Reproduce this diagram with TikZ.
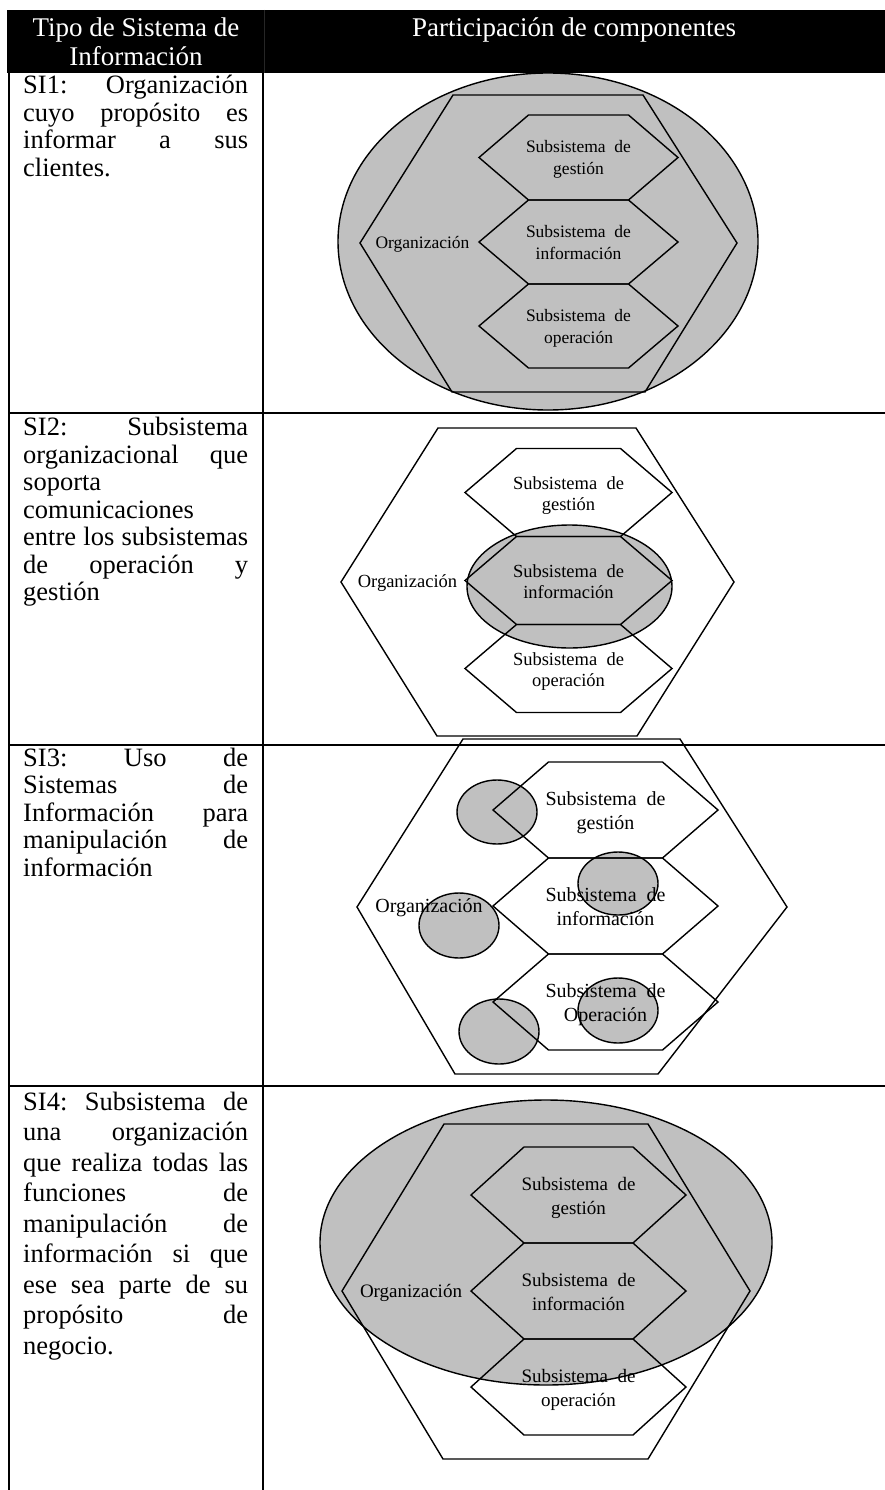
\documentclass[tikz,border=0pt]{standalone}
\usepackage{fontspec}
\setmainfont{Liberation Serif}
\definecolor{shade}{RGB}{192,192,192}

% inner hexagon: centre (#1,#2), half width to the side vertex #3,
% half length of the flat top edge #4, half height #5
\newcommand{\inhex}[5]{%
  \draw[shapeline] ({#1-#3},#2) -- ({#1-#4},{#2-#5}) -- ({#1+#4},{#2-#5})
    -- ({#1+#3},#2) -- ({#1+#4},{#2+#5}) -- ({#1-#4},{#2+#5}) -- cycle;}
% two centred lines whose reference point is the first baseline
\newcommand{\twoline}[2]{\vtop{\hbox to 0pt{\hss#1\hss}\hbox to 0pt{\hss#2\hss}}}
\newlength{\cw}\setlength{\cw}{225pt}
\newcommand{\jl}[1]{\hbox to\cw{#1}}

\tikzset{
  rule/.style={line width=2pt},
  shapeline/.style={line width=1.4pt, line join=miter},
  blob/.style={fill=shade, draw=black, line width=1.4pt},
  hdr/.style={text=white, inner sep=0pt, font=\fontsize{27}{29}\selectfont},
  body/.style={inner sep=0pt, anchor=base west, font=\fontsize{26.5}{27.5}\selectfont},
  lblA/.style={inner sep=0pt, anchor=base, font=\fontsize{17.5}{22}\selectfont},
  lblB/.style={inner sep=0pt, anchor=base, font=\fontsize{18.5}{21}\selectfont},
  lblC/.style={inner sep=0pt, anchor=base, font=\fontsize{20}{23.5}\selectfont},
  lblD/.style={inner sep=0pt, anchor=base, font=\fontsize{19}{24}\selectfont},
}

\begin{document}
\begin{tikzpicture}[x=1pt, y=-1pt]
\useasboundingbox[fill=white] (0,0) rectangle (885,1490);

% ---------- table frame ----------
\fill[black] (7,10) rectangle (885,73);
\draw[gray!30!black, line width=1pt] (264.5,10) -- (264.5,73);
\draw[rule] (9,73) -- (9,1490);
\draw[rule] (263,73) -- (263,1490);
\draw[rule] (8,413) -- (885,413);
\draw[rule] (8,745) -- (885,745);
\draw[rule] (8,1086) -- (885,1086);

\node[hdr, anchor=base] (hleft) at (136,37)
  {\vtop{\hbox to 0pt{\hss Tipo de Sistema de\hss}\hbox to 0pt{\hss Información\hss}}};
\node[hdr, anchor=base] (hright) at (574,37) {Participación de componentes};

% ---------- left column ----------
\node[body] (si1) at (23,94) {\vtop{%
  \jl{SI1:\hfil Organización}
  \jl{cuyo\hfil propósito\hfil es}
  \jl{informar\hfil a\hfil sus}
  \hbox{clientes.}}};
\node[body] (si2) at (23,435.5) {\vtop{%
  \jl{SI2:\hfil Subsistema}
  \jl{organizacional\hfil que}
  \hbox{soporta}
  \hbox{comunicaciones}
  \jl{entre\hfil los\hfil subsistemas}
  \jl{de\hfil operación\hfil y}
  \hbox{gestión}}};
\node[body] (si3) at (23,766) {\vtop{%
  \jl{SI3:\hfil Uso\hfil de}
  \jl{Sistemas\hfil de}
  \jl{Información\hfil para}
  \jl{manipulación\hfil de}
  \hbox{información}}};
\node[body, font=\fontsize{26.5}{30.5}\selectfont] (si4) at (23,1110) {\vtop{%
  \jl{SI4:\hfil Subsistema\hfil de}
  \jl{una\hfil organización}
  \jl{que\hfil realiza\hfil todas\hfil las}
  \jl{funciones\hfil de}
  \jl{manipulación\hfil de}
  \jl{información\hfil si\hfil que}
  \jl{ese\hfil sea\hfil parte\hfil de\hfil su}
  \jl{propósito\hfil de}
  \hbox{negocio.}}};

% ---------- SI1: the whole organization is shaded ----------
\path[blob] (548,241.5) ellipse [x radius=210, y radius=168.5];
\draw[shapeline] (453,95) -- (643,95) -- (737,243) -- (645,392) -- (452,392) -- (360,243) -- cycle;
\inhex{578.5}{157.5}{99.5}{50}{42.5}
\inhex{578.5}{242}{99.5}{50}{42}
\inhex{578.5}{326}{99.5}{50}{42}
\node[lblA] (a1) at (578.5,153) {\twoline{Subsistema~~de}{gestión}};
\node[lblA] (a2) at (578.5,237.5) {\twoline{Subsistema~~de}{información}};
\node[lblA] (a3) at (578.5,321.5) {\twoline{Subsistema~~de}{operación}};
\node[lblA] (a0) at (422.5,248) {Organización};

% ---------- SI2: only the information subsystem is shaded ----------
\path[blob] (569.5,586.5) ellipse [x radius=102.5, y radius=61.5];
\draw[shapeline] (438,428) -- (636,428) -- (734,582) -- (637,736) -- (437,736) -- (341,582) -- cycle;
\inhex{568.5}{492.5}{103.5}{52}{44}
\inhex{568.5}{580.5}{103.5}{52}{44}
\inhex{568.5}{668.5}{103.5}{52}{44}
\node[lblB] (b1) at (568.5,489) {\twoline{Subsistema~~de}{gestión}};
\node[lblB] (b2) at (568.5,577) {\twoline{Subsistema~~de}{información}};
\node[lblB] (b3) at (568.5,665) {\twoline{Subsistema~~de}{operación}};
\node[lblB] (b0) at (407.5,587) {Organización};

% ---------- SI3: scattered uses of information systems ----------
\path[blob] (497,812) ellipse [x radius=40, y radius=32];
\path[blob] (618,883.5) ellipse [x radius=40, y radius=31.5];
\path[blob] (459,925.5) ellipse [x radius=40, y radius=32.5];
\path[blob] (618,1010.5) ellipse [x radius=40, y radius=32.5];
\path[blob] (499,1031.5) ellipse [x radius=40, y radius=32.5];
\draw[shapeline] (463,739) -- (680,739) -- (787,907) -- (658,1074) -- (455,1074) -- (357,907) -- cycle;
\inhex{605.5}{810}{112.5}{57}{48}
\inhex{605.5}{906}{112.5}{57}{48}
\inhex{605.5}{1002}{112.5}{57}{48}
\node[lblC] (c1) at (605.5,805.5) {\twoline{Subsistema~~de}{gestión}};
\node[lblC] (c2) at (605.5,901.5) {\twoline{Subsistema~~de}{información}};
\node[lblC] (c3) at (605.5,997.5) {\twoline{Subsistema~~de}{Operación}};
\node[lblC] (c0) at (429,912) {Organización};

% ---------- SI4: information handling covers most of the organization ----------
\path[blob] (546,1242.5) ellipse [x radius=226, y radius=142.5];
\draw[shapeline] (444,1124) -- (648,1124) -- (750,1291) -- (648,1459) -- (443,1459) -- (342,1291) -- cycle;
\inhex{578.5}{1195}{107.5}{54.5}{48}
\inhex{578.5}{1291}{107.5}{54.5}{48}
\inhex{578.5}{1387}{107.5}{54.5}{48}
\node[lblD] (d1) at (578.5,1190.5) {\twoline{Subsistema~~de}{gestión}};
\node[lblD] (d2) at (578.5,1286.5) {\twoline{Subsistema~~de}{información}};
\node[lblD] (d3) at (578.5,1382.5) {\twoline{Subsistema~~de}{operación}};
\node[lblD] (d0) at (411,1297) {Organización};
\end{tikzpicture}
\end{document}
